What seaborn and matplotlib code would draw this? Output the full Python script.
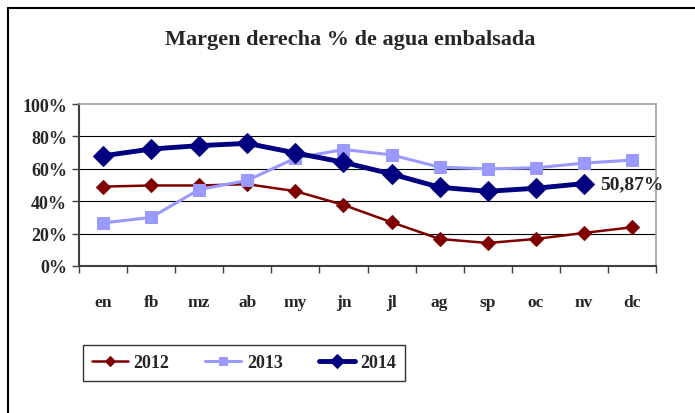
import matplotlib
matplotlib.use("Agg")
import matplotlib.pyplot as plt
import numpy as np
import pandas as pd
import seaborn as sns
from matplotlib.lines import Line2D
from matplotlib.ticker import FixedLocator, PercentFormatter

months = ["en", "fb", "mz", "ab", "my", "jn", "jl", "ag", "sp", "oc", "nv", "dc"]
y2012 = [49.0, 49.7, 49.7, 50.5, 46.2, 37.7, 27.0, 16.7, 14.2, 16.7, 20.4, 23.9]
y2013 = [26.6, 30.0, 47.2, 52.8, 66.6, 71.9, 68.6, 61.0, 60.0, 60.6, 63.5, 65.4]
y2014 = [68.0, 72.2, 74.3, 75.7, 69.8, 64.0, 56.8, 48.6, 46.1, 48.0, 50.87, np.nan]
last_label = "50,87%"

sns.set_theme(style="white")
plt.rcParams["font.family"] = ["Liberation Serif", "DejaVu Serif"]
plt.rcParams["font.weight"] = "bold"

df = pd.DataFrame({"mes": months, "2012": y2012, "2013": y2013, "2014": y2014})
df["x"] = np.arange(len(months))

fig = plt.figure(figsize=(6.95, 4.14), dpi=100)
ax = fig.add_axes([79 / 695, 1 - 267 / 414, 577 / 695, 162 / 414])

series = [
    ("2012", "#800000", "D", 1.8, 7),
    ("2013", "#9999ff", "s", 2.2, 8),
    ("2014", "#000080", "D", 3.5, 10),
]
for name, color, marker, lw, ms in series:
    sns.lineplot(data=df, x="x", y=name, color=color, marker=marker,
                 linewidth=lw, markersize=ms, markeredgecolor=color,
                 label=name, legend=False, ax=ax)

ax.set_xlim(-0.5, len(months) - 0.5)
ax.set_ylim(0, 100)
ax.set_xticks(df["x"])
ax.set_xticklabels(months, fontsize=12.5, fontweight="bold")
ax.xaxis.set_minor_locator(FixedLocator(np.arange(-0.5, len(months), 1)))
ax.tick_params(axis="x", which="major", length=0, pad=20)
ax.tick_params(axis="x", which="minor", length=5, width=1, color="#404040",
               direction="out", bottom=True)
ax.set_yticks(np.arange(0, 101, 20))
ax.yaxis.set_major_formatter(PercentFormatter(decimals=0))
ax.tick_params(axis="y", length=5, width=1, color="#404040", direction="out",
               left=True, labelsize=13)
for lab in ax.get_yticklabels():
    lab.set_fontweight("bold")
for v in [20, 40, 60, 80]:
    ax.axhline(v, color="black", lw=0.8, zorder=0)
ax.set_xlabel("")
ax.set_ylabel("")

for side in ["left", "bottom"]:
    ax.spines[side].set_color("#404040")
    ax.spines[side].set_linewidth(1.5)
for side in ["top", "right"]:
    ax.spines[side].set_color("#a0a0a0")
    ax.spines[side].set_linewidth(1.2)

ax.annotate(last_label, (10, y2014[10]), xytext=(12, 0),
            textcoords="offset points", va="center", ha="left",
            fontsize=14, fontweight="bold")

fig.text(350 / 695, 1 - 40 / 414, "Margen derecha % de agua embalsada",
         ha="center", va="center", fontsize=16, fontweight="bold")

leg = fig.legend(loc="center", bbox_to_anchor=(244 / 695, 1 - 364 / 414),
                 ncol=3, fontsize=13, frameon=True, fancybox=False,
                 handlelength=2.0, handletextpad=0.3, columnspacing=2.0,
                 borderpad=0.5, markerscale=0.75)
leg.get_frame().set_edgecolor("black")
leg.get_frame().set_linewidth(1)
for t in leg.get_texts():
    t.set_fontweight("bold")

# outer chart border (cropped at right and bottom)
fig.add_artist(Line2D([8 / 695, 8 / 695], [0, 1 - 9 / 414],
                      transform=fig.transFigure, color="black", lw=1.5))
fig.add_artist(Line2D([8 / 695, 1], [1 - 9 / 414, 1 - 9 / 414],
                      transform=fig.transFigure, color="black", lw=1.5))

fig.savefig("out.png", dpi=100)
